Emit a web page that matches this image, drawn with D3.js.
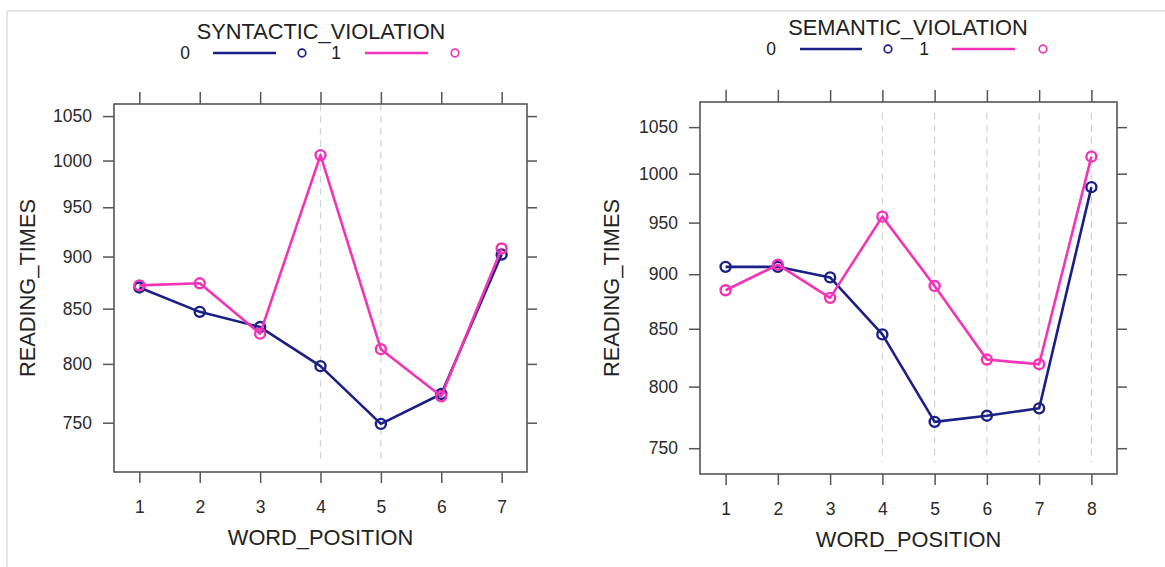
<!DOCTYPE html>
<html>
<head>
<meta charset="utf-8">
<script src="https://cdn.jsdelivr.net/npm/d3@7"></script>
<style>
  html, body { margin: 0; padding: 0; background: #fff; }
  svg { display: block; font-family: "Liberation Sans", Arial, sans-serif; }
</style>
</head>
<body>
<svg id="chart" width="1165" height="567"></svg>
<script>
// Mean reading times by word position, split by violation condition
const syntacticPositions = [1, 2, 3, 4, 5, 6, 7];
const syntacticNone      = [870, 847, 833, 798, 749, 774, 902];
const syntacticViolation = [872, 874, 827, 1006, 813, 772, 908];

const semanticPositions = [1, 2, 3, 4, 5, 6, 7, 8];
const semanticNone      = [907, 907, 897, 845, 771, 776, 782, 986];
const semanticViolation = [885, 909, 878, 956, 889, 823, 819, 1018];

const yTickValues = [750, 800, 850, 900, 950, 1000, 1050];
const conditionLabels = ["0", "1"];
const syntacticMarked = [4, 5];
const semanticMarked = [4, 5, 6, 7, 8];

const colors = ["#1b2086", "#f433b6"];

const panels = [
  {
    title: "SYNTACTIC_VIOLATION",
    positions: syntacticPositions,
    series: [syntacticNone, syntacticViolation],
    marked: syntacticMarked,
    box: { x0: 114, x1: 527, y0: 104, y1: 472 },
    yDomain: [710.5, 1064],
    refSpan: [720, 1064],
    titleY: 39, legendY: 53,
    legendX: { l0: 185, line0: [213, 276], c0: 302, l1: 336, line1: [365, 428], c1: 455 },
    yLabelX: 35, xLabelY: 545
  },
  {
    title: "SEMANTIC_VIOLATION",
    positions: semanticPositions,
    series: [semanticNone, semanticViolation],
    marked: semanticMarked,
    box: { x0: 700, x1: 1117, y0: 102, y1: 474 },
    yDomain: [730, 1078],
    refSpan: [739, 1066],
    titleY: 35, legendY: 49,
    legendX: { l0: 771, line0: [800, 862], c0: 888, l1: 924, line1: [952, 1015], c1: 1043 },
    yLabelX: 619, xLabelY: 547
  }
];

const svg = d3.select("#chart");

// light outer frame
svg.append("path")
  .attr("d", "M7,567 L7,11 L1165,11")
  .attr("fill", "none")
  .attr("stroke", "#e6e6e6")
  .attr("stroke-width", 2);

const axisColor = "#555";
const tickFont = 17.5;
const titleFont = 21.8;

panels.forEach(p => {
  const g = svg.append("g");
  const b = p.box;
  const n = p.positions.length;
  const pad = 0.07 * (n - 1);

  const x = d3.scaleLinear()
    .domain([1 - pad, n + pad])
    .range([b.x0, b.x1]);
  const y = d3.scaleLog()
    .domain(p.yDomain)
    .range([b.y1, b.y0]);

  // dashed reference lines
  g.selectAll("line.ref")
    .data(p.marked)
    .join("line")
    .attr("class", "ref")
    .attr("x1", d => x(d)).attr("x2", d => x(d))
    .attr("y1", y(p.refSpan[1])).attr("y2", y(p.refSpan[0]))
    .attr("stroke", "#d4d4d4")
    .attr("stroke-width", 1.2)
    .attr("stroke-dasharray", "7,5");

  // axes
  const styleAxis = sel => {
    sel.select(".domain").remove();
    sel.selectAll(".tick line").attr("stroke", axisColor).attr("stroke-width", 1.5);
    sel.selectAll(".tick text")
      .attr("fill", "#2a2a2a")
      .attr("font-size", tickFont)
      .attr("font-family", "Liberation Sans, Arial, sans-serif");
  };

  g.append("g")
    .attr("transform", `translate(${b.x0},0)`)
    .call(d3.axisLeft(y).tickValues(yTickValues).tickFormat(d3.format("d")).tickSize(11).tickPadding(11))
    .call(styleAxis);
  g.append("g")
    .attr("transform", `translate(${b.x1},0)`)
    .call(d3.axisRight(y).tickValues(yTickValues).tickFormat("").tickSize(10))
    .call(styleAxis);
  g.append("g")
    .attr("transform", `translate(0,${b.y1})`)
    .call(d3.axisBottom(x).tickValues(p.positions).tickFormat(d3.format("d")).tickSize(11).tickPadding(18))
    .call(styleAxis);
  g.append("g")
    .attr("transform", `translate(0,${b.y0})`)
    .call(d3.axisTop(x).tickValues(p.positions).tickFormat("").tickSize(12))
    .call(styleAxis);

  // panel box
  g.append("rect")
    .attr("x", b.x0).attr("y", b.y0)
    .attr("width", b.x1 - b.x0).attr("height", b.y1 - b.y0)
    .attr("fill", "none")
    .attr("stroke", axisColor)
    .attr("stroke-width", 1.6);

  // series lines and points
  const line = d3.line()
    .x((d, i) => x(p.positions[i]))
    .y(d => y(d));

  p.series.forEach((vals, si) => {
    g.append("path")
      .datum(vals)
      .attr("d", line)
      .attr("fill", "none")
      .attr("stroke", colors[si])
      .attr("stroke-width", 2.6)
      .attr("stroke-linejoin", "round");
    g.selectAll(null)
      .data(vals)
      .join("circle")
      .attr("cx", (d, i) => x(p.positions[i]))
      .attr("cy", d => y(d))
      .attr("r", 5)
      .attr("fill", "none")
      .attr("stroke", colors[si])
      .attr("stroke-width", 2.4);
  });

  // legend
  g.append("text")
    .attr("x", (p.legendX.l0 + p.legendX.c1) / 2 + 1)
    .attr("y", p.titleY)
    .attr("text-anchor", "middle")
    .attr("font-size", titleFont)
    .attr("fill", "#222")
    .text(p.title);

  const lx = p.legendX;
  const entries = [
    { label: conditionLabels[0], lx: lx.l0, line: lx.line0, c: lx.c0 },
    { label: conditionLabels[1], lx: lx.l1, line: lx.line1, c: lx.c1 }
  ];
  entries.forEach((e, i) => {
    g.append("text")
      .attr("x", e.lx).attr("y", p.legendY + 6)
      .attr("text-anchor", "middle")
      .attr("font-size", tickFont)
      .attr("fill", "#222")
      .text(e.label);
    g.append("line")
      .attr("x1", e.line[0]).attr("x2", e.line[1])
      .attr("y1", p.legendY).attr("y2", p.legendY)
      .attr("stroke", colors[i]).attr("stroke-width", 2.6);
    g.append("circle")
      .attr("cx", e.c).attr("cy", p.legendY)
      .attr("r", 3.8)
      .attr("fill", "none")
      .attr("stroke", colors[i]).attr("stroke-width", 1.7);
  });

  // axis titles
  g.append("text")
    .attr("transform", `translate(${p.yLabelX},${(b.y0 + b.y1) / 2}) rotate(-90)`)
    .attr("text-anchor", "middle")
    .attr("font-size", titleFont)
    .attr("fill", "#222")
    .text("READING_TIMES");
  g.append("text")
    .attr("x", (b.x0 + b.x1) / 2)
    .attr("y", p.xLabelY)
    .attr("text-anchor", "middle")
    .attr("font-size", titleFont)
    .attr("fill", "#222")
    .text("WORD_POSITION");
});
</script>
</body>
</html>
